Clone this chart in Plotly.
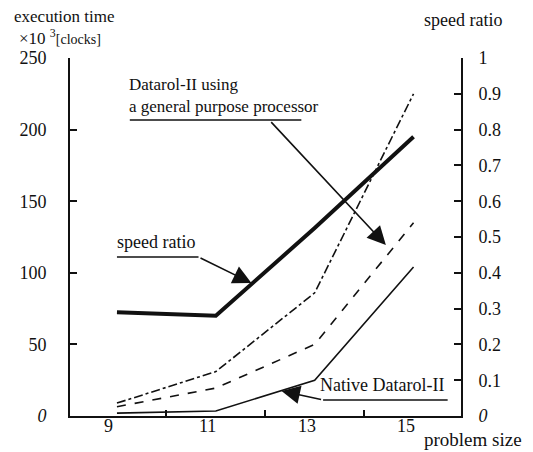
import plotly.graph_objects as go

problem_size = [9, 11, 13, 15]
general_purpose_a = [9, 31, 86, 225]     # dash-dot, x10^3 clocks
general_purpose_b = [6.5, 19.5, 50, 135]  # dashed
native_datarol = [2, 3.5, 25, 104]        # thin solid
speed_ratio = [0.29, 0.28, 0.525, 0.78]   # thick solid, right axis

left_ticks = [0, 50, 100, 150, 200, 250]
left_text = ["<i>0</i>", "50", "100", "150", "200", "250"]
right_ticks = [0, 0.1, 0.2, 0.3, 0.4, 0.5, 0.6, 0.7, 0.8, 0.9, 1]
right_text = ["<i>0</i>", "0.1", "0.2", "0.3", "0.4", "0.5", "0.6", "0.7", "0.8", "0.9", "1"]
x_labels = ["9", "11", "13", "15"]

FONT = "Liberation Serif"
BLACK = "#111111"

fig = go.Figure()
fig.add_trace(go.Scatter(x=problem_size, y=general_purpose_a, mode="lines",
                         line=dict(color=BLACK, width=1.6, dash="dashdot")))
fig.add_trace(go.Scatter(x=problem_size, y=general_purpose_b, mode="lines",
                         line=dict(color=BLACK, width=1.6, dash="dash")))
fig.add_trace(go.Scatter(x=problem_size, y=native_datarol, mode="lines",
                         line=dict(color=BLACK, width=1.6)))
fig.add_trace(go.Scatter(x=problem_size, y=speed_ratio, mode="lines", yaxis="y2",
                         line=dict(color=BLACK, width=4)))

def f(size):
    return dict(size=size, family=FONT, color=BLACK)

annotations = []
# category labels
for xv, t in zip(problem_size, x_labels):
    annotations.append(dict(x=xv, y=-0.062, xref="x", yref="paper", text=t, showarrow=False,
                            xshift=-8, font=f(18)))
# axis titles
annotations += [
    dict(x=-0.148, y=1.117, xref="paper", yref="paper", text="execution time", showarrow=False,
         xanchor="left", yanchor="middle", font=f(17)),
    dict(x=-0.135, y=1.058, xref="paper", yref="paper",
         text="×10 <sup>3</sup><span style='font-size:14px'>[clocks]</span>", showarrow=False,
         xanchor="left", yanchor="middle", font=f(17)),
    dict(x=0.9, y=1.105, xref="paper", yref="paper", text="speed ratio", showarrow=False,
         xanchor="left", yanchor="middle", font=f(18)),
    dict(x=0.9, y=-0.065, xref="paper", yref="paper", text="problem size", showarrow=False,
         xanchor="left", yanchor="middle", font=f(19)),
]
# callout texts
annotations += [
    dict(x=9.2, y=208, xref="x", yref="y", text="Datarol-II using<br>a general purpose processor",
         showarrow=False, xanchor="left", yanchor="bottom", align="left", font=f(17)),
    dict(x=8.96, y=113, xref="x", yref="y", text="speed ratio",
         showarrow=False, xanchor="left", yanchor="bottom", align="left", font=f(18)),
    dict(x=13.07, y=13, xref="x", yref="y", text="Native Datarol-II",
         showarrow=False, xanchor="left", yanchor="bottom", align="left", font=f(18)),
]
# arrows
for (hx, hy, tx, ty) in [(14.44, 119.4, 12.08, 206.7), (11.72, 92.9, 10.65, 111),
                         (12.33, 17.5, 13.17, 11.2)]:
    annotations.append(dict(x=hx, y=hy, ax=tx, ay=ty, xref="x", yref="y", axref="x", ayref="y",
                            text=" ", showarrow=True, arrowhead=2, arrowsize=2.3,
                            arrowwidth=1.6, arrowcolor=BLACK, font=dict(size=2)))

shapes = [
    dict(type="line", xref="x", yref="y", x0=9.26, x1=12.73, y0=206.7, y1=206.7,
         line=dict(color=BLACK, width=1.6)),
    dict(type="line", xref="x", yref="y", x0=9.0, x1=10.65, y0=111, y1=111,
         line=dict(color=BLACK, width=1.6)),
    dict(type="line", xref="x", yref="y", x0=13.17, x1=15.69, y0=11.2, y1=11.2,
         line=dict(color=BLACK, width=1.6)),
]

fig.update_layout(
    width=525, height=444,
    margin=dict(l=60, r=72, t=50, b=36),
    plot_bgcolor="white", paper_bgcolor="white",
    showlegend=False,
    font=dict(family=FONT, size=18, color=BLACK),
    xaxis=dict(range=[8.05, 15.96], showgrid=False, zeroline=False, showline=True,
               linecolor=BLACK, linewidth=1.6, tickvals=[10, 12, 14], ticks="inside",
               ticklen=6, tickwidth=1.5, tickcolor=BLACK, showticklabels=False),
    yaxis=dict(range=[0, 250], showgrid=False, zeroline=False, showline=True,
               linecolor=BLACK, linewidth=1.6, tickvals=left_ticks, ticktext=left_text,
               ticks="inside", ticklen=7, tickwidth=1.5, tickcolor=BLACK,
               ticklabelstandoff=18, tickfont=f(18)),
    yaxis2=dict(range=[0, 1], overlaying="y", side="right", showgrid=False, zeroline=False,
                showline=True, linecolor=BLACK, linewidth=1.6, tickvals=right_ticks,
                ticktext=right_text, ticks="inside", ticklen=7, tickwidth=1.5,
                tickcolor=BLACK, ticklabelstandoff=12, tickfont=f(18)),
    annotations=annotations,
    shapes=shapes,
)

fig.write_html("out.html")
